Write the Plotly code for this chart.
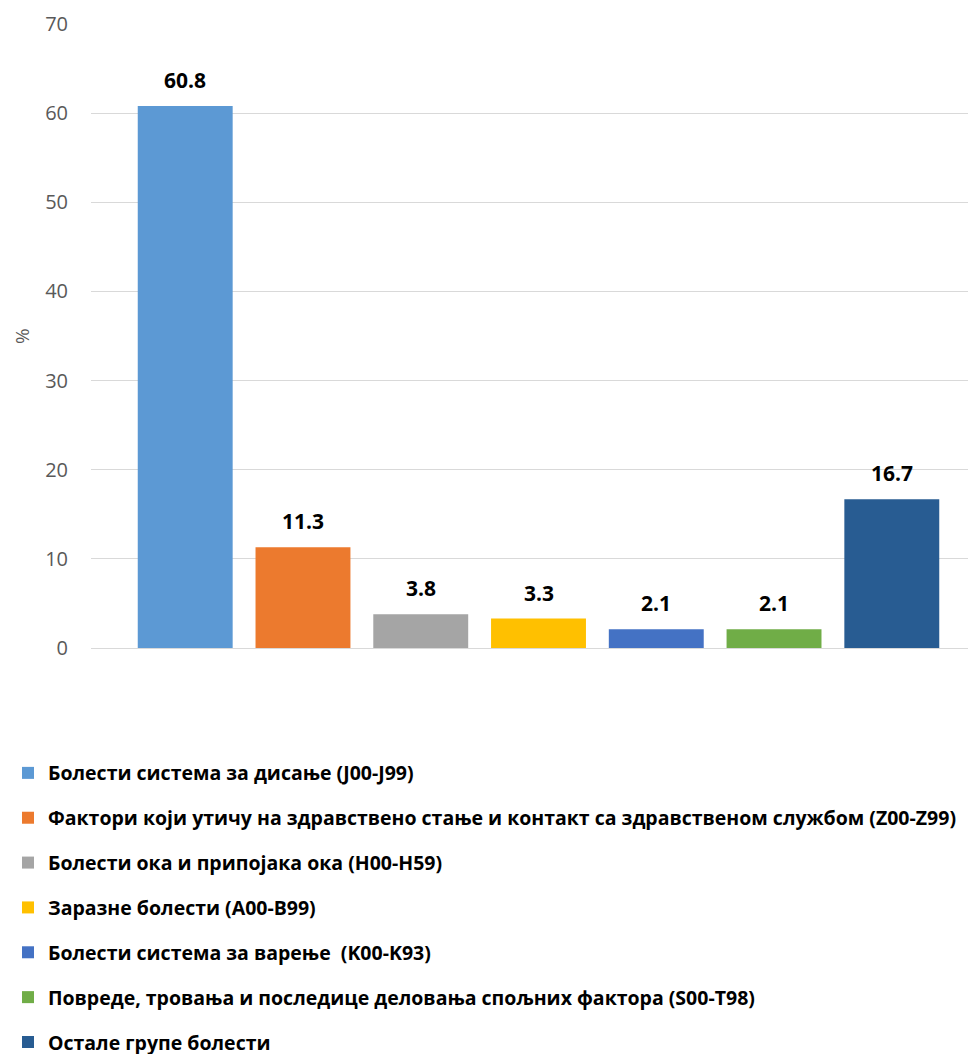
import plotly.graph_objects as go

categories = [
    "Болести система за дисање (J00-J99)",
    "Фактори који утичу на здравствено стање и контакт са здравственом службом (Z00-Z99)",
    "Болести ока и припојака ока (H00-H59)",
    "Заразне болести (A00-B99)",
    "Болести система за варење  (K00-K93)",
    "Повреде, тровања и последице деловања спољних фактора (S00-T98)",
    "Остале групе болести",
]
values = [60.8, 11.3, 3.8, 3.3, 2.1, 2.1, 16.7]
colors = ["#5C99D4", "#EC7A2E", "#A5A5A5", "#FFC000", "#4472C4", "#70AD47", "#285C92"]
tick_vals = [0, 10, 20, 30, 40, 50, 60, 70]

FONT = "'Open Sans', 'Noto Sans', 'DejaVu Sans', sans-serif"

fig = go.Figure()
for i, (cat, v, c) in enumerate(zip(categories, values, colors)):
    fig.add_trace(go.Bar(
        x=[i], y=[v], name=cat, legendgroup=f"g{i}",
        marker=dict(color=c, line=dict(width=0)),
        width=0.806,
        hoverinfo="y+name",
    ))
    fig.add_annotation(
        x=i, y=v, xref="x", yref="y", text=f"{v:.1f}", showarrow=False,
        yanchor="bottom", yshift=10,
        font=dict(family=FONT, size=21, color="#000000", weight="bold"),
    )

fig.update_layout(
    width=976, height=1054,
    margin=dict(l=83, r=8, t=16, b=414, autoexpand=False),
    paper_bgcolor="white", plot_bgcolor="white",
    font=dict(family=FONT),
    barmode="overlay",
    xaxis=dict(range=[-0.8, 6.715], showticklabels=False, showgrid=False,
               zeroline=False, showline=False, ticks=""),
    yaxis=dict(range=[0, 70], tickvals=tick_vals, showgrid=True, gridcolor="#D9D9D9",
               gridwidth=1, zeroline=True, zerolinecolor="#D9D9D9", zerolinewidth=1,
               tickfont=dict(family=FONT, size=20, color="#595959"),
               ticklabelstandoff=22, showline=False),
    showlegend=True,
    legend=dict(
        orientation="v", xref="container", yref="container",
        x=0.0, xanchor="left", y=0.2925, yanchor="top",
        font=dict(family=FONT, size=19.5, color="#000000", weight="bold"),
        tracegroupgap=16.5, itemwidth=30,
        bgcolor="rgba(0,0,0,0)",
    ),
)
fig.add_annotation(text="%", x=-0.078, xref="paper", xanchor="center",
                   y=0.5, yref="paper", yanchor="middle",
                   textangle=-90, showarrow=False,
                   font=dict(family=FONT, size=19, color="#595959"))

fig.write_html("out.html")
